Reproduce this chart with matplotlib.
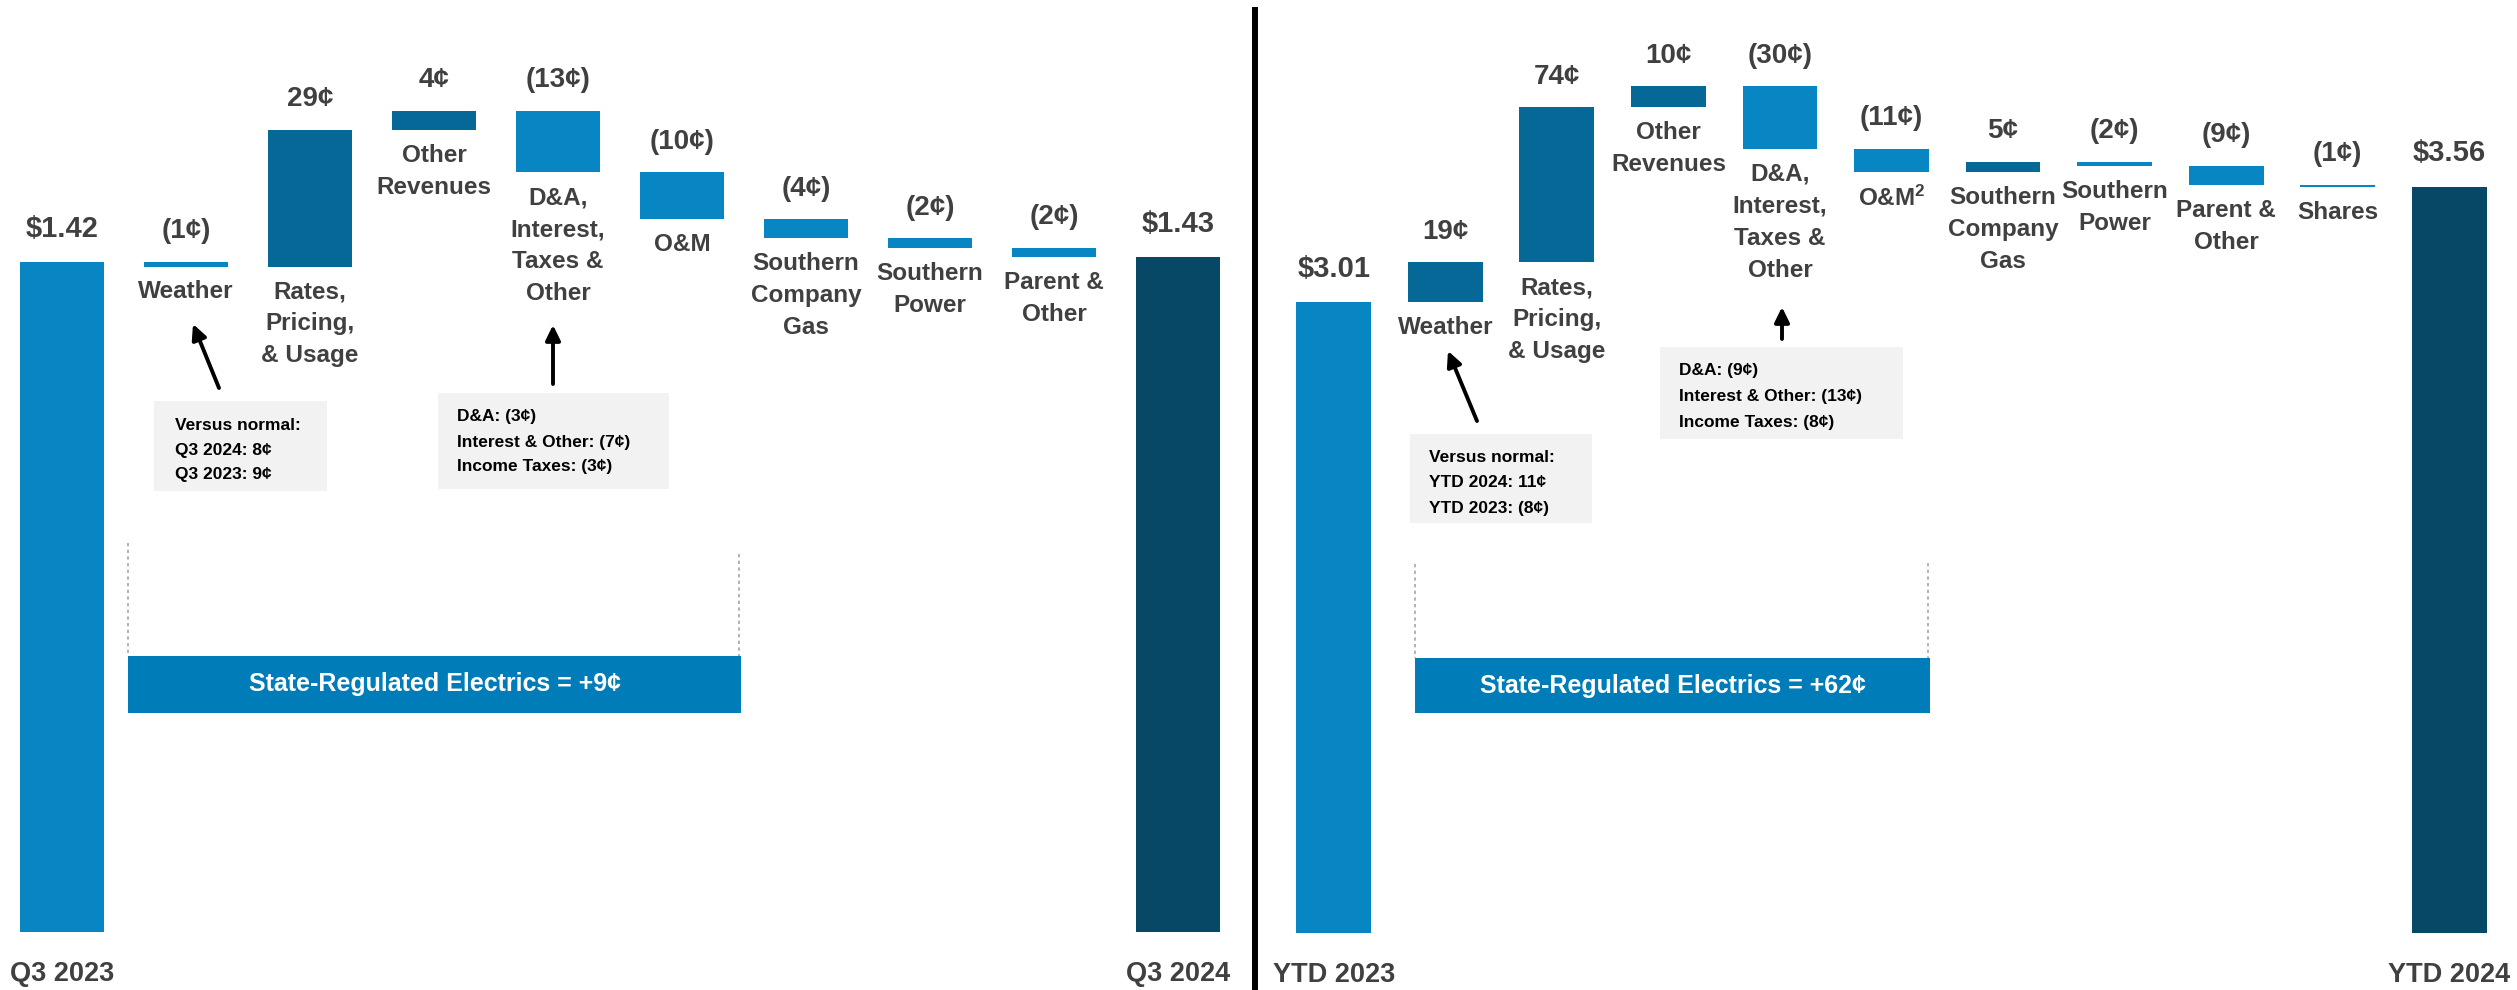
import matplotlib
matplotlib.use("Agg")
import matplotlib.pyplot as plt
from matplotlib.patches import Rectangle, FancyArrowPatch

plt.rcParams["font.family"] = ["Liberation Sans", "DejaVu Sans"]
plt.rcParams["font.weight"] = "bold"
plt.rcParams["mathtext.fontset"] = "custom"
plt.rcParams["mathtext.rm"] = "Liberation Sans:bold"
plt.rcParams["mathtext.default"] = "rm"

W, H, DPI = 2517, 990, 100

# ---- data (cents) ----
q3_labels = ["Q3 2023", "Weather", "Rates,\nPricing,\n& Usage", "Other\nRevenues",
             "D&A,\nInterest,\nTaxes &\nOther", "O&M", "Southern\nCompany\nGas",
             "Southern\nPower", "Parent &\nOther", "Q3 2024"]
q3_start = 142
q3_end = 143
q3_deltas = [-1, 29, 4, -13, -10, -4, -2, -2]

ytd_labels = ["YTD 2023", "Weather", "Rates,\nPricing,\n& Usage", "Other\nRevenues",
              "D&A,\nInterest,\nTaxes &\nOther", r"O&M$^{2}$", "Southern\nCompany\nGas",
              "Southern\nPower", "Parent &\nOther", "Shares", "YTD 2024"]
ytd_start = 301
ytd_end = 356
ytd_deltas = [19, 74, 10, -30, -11, 5, -2, -9, -1]

q3_notes = [["Versus normal:", "Q3 2024: 8¢", "Q3 2023: 9¢"],
            ["D&A: (3¢)", "Interest & Other: (7¢)", "Income Taxes: (3¢)"]]
ytd_notes = [["Versus normal:", "YTD 2024: 11¢", "YTD 2023: (8¢)"],
             ["D&A: (9¢)", "Interest & Other: (13¢)", "Income Taxes: (8¢)"]]
q3_sre = "State-Regulated Electrics = +9¢"
ytd_sre = "State-Regulated Electrics = +62¢"

C_START = "#0786C3"
C_POS = "#066896"
C_NEG = "#0786C3"
C_END = "#074866"
C_TEXT = "#404040"
C_BAND = "#007CB9"
C_NOTE = "#F2F2F2"


def fx(px):
    return px / W


def fy(py):
    return 1 - py / H


def fmt_delta(d):
    return f"{d}¢" if d >= 0 else f"({-d}¢)"


def waterfall(ax, labels, start, end, deltas):
    n = len(labels)
    ax.bar(0, start, width=0.67, color=C_START)
    cum = start
    tops, bottoms, texts = [start], [0], [f"${start / 100:.2f}"]
    for i, d in enumerate(deltas, start=1):
        lo = min(cum, cum + d)
        ax.bar(i, abs(d), bottom=lo, width=0.67, color=C_POS if d > 0 else C_NEG)
        tops.append(lo + abs(d))
        bottoms.append(lo)
        texts.append(fmt_delta(d))
        cum += d
    ax.bar(n - 1, end, width=0.67, color=C_END)
    tops.append(end)
    bottoms.append(0)
    texts.append(f"${end / 100:.2f}")

    for i in range(n):
        big = i in (0, n - 1)
        ax.annotate(texts[i], (i, tops[i]), xytext=(0, 24 if big else 22),
                    textcoords="offset points", ha="center", va="center",
                    fontsize=21 if big else 20, color=C_TEXT)
        if not big:
            ax.annotate(labels[i], (i, bottoms[i]), xytext=(0, -10), textcoords="offset points",
                        ha="center", va="top", fontsize=17.5, color=C_TEXT, linespacing=1.5)
        else:
            ax.annotate(labels[i], (i, 0), xytext=(0, -30), textcoords="offset points",
                        ha="center", va="center", fontsize=19.5, color=C_TEXT)
    ax.set_xlim(-0.5, n - 0.5)
    ax.axis("off")


fig = plt.figure(figsize=(W / DPI, H / DPI), dpi=DPI)

ax1 = fig.add_axes([fx(0), 0, fx(1240), 1])
waterfall(ax1, q3_labels, q3_start, q3_end, q3_deltas)
ax1.set_ylim(-12.3, 197.5)

ax2 = fig.add_axes([fx(1278), 0, fx(2505) - fx(1278), 1])
waterfall(ax2, ytd_labels, ytd_start, ytd_end, ytd_deltas)
ax2.set_ylim(-27.2, 445.1)

# divider
fig.add_artist(plt.Line2D([fx(1255), fx(1255)], [fy(10), 0], color="black", lw=4.3,
                          transform=fig.transFigure))


def note_box(x0, y0, x1, y1, lines, tx, ty, step):
    fig.add_artist(Rectangle((fx(x0), fy(y1)), fx(x1) - fx(x0), fy(y0) - fy(y1),
                             transform=fig.transFigure, facecolor=C_NOTE, edgecolor="none"))
    for k, line in enumerate(lines):
        fig.text(fx(tx), fy(ty + k * step), line, ha="left", va="center",
                 fontsize=12.5, color="black")


def arrow(x0, y0, x1, y1):
    fig.add_artist(FancyArrowPatch(
        (fx(x0), fy(y0)), (fx(x1), fy(y1)), transform=fig.transFigure,
        arrowstyle="-|>,head_length=0.45,head_width=0.22", mutation_scale=20, lw=2.8,
        color="black", shrinkA=0, shrinkB=0))


def band(x0, x1, y0, y1, ldash, rdash, text):
    fig.add_artist(Rectangle((fx(x0), fy(y1)), fx(x1) - fx(x0), fy(y0) - fy(y1),
                             transform=fig.transFigure, facecolor=C_BAND, edgecolor="none"))
    fig.text(fx((x0 + x1) / 2), fy((y0 + y1) / 2), text, ha="center", va="center",
             fontsize=18, color="white")
    for xx, yt in [(x0, ldash), (x1 - 2, rdash)]:
        fig.add_artist(plt.Line2D([fx(xx), fx(xx)], [fy(yt), fy(y0)], color="#A6A6A6",
                                  lw=1.2, ls=(0, (2, 2)), transform=fig.transFigure))


note_box(154, 401, 327, 491, q3_notes[0], 175, 425, 25)
note_box(438, 393, 669, 489, q3_notes[1], 457, 417, 25)
note_box(1410, 434, 1592, 523, ytd_notes[0], 1429, 458, 25)
note_box(1660, 347, 1903, 439, ytd_notes[1], 1679, 370, 26)

arrow(219, 388, 193, 324)
arrow(553, 384, 553, 325)
arrow(1477, 421, 1448, 351)
arrow(1782, 339, 1782, 307)

band(128, 741, 656, 713, 543, 554, q3_sre)
band(1415, 1930, 658, 713, 564, 563, ytd_sre)

fig.savefig("out.png", dpi=DPI)
